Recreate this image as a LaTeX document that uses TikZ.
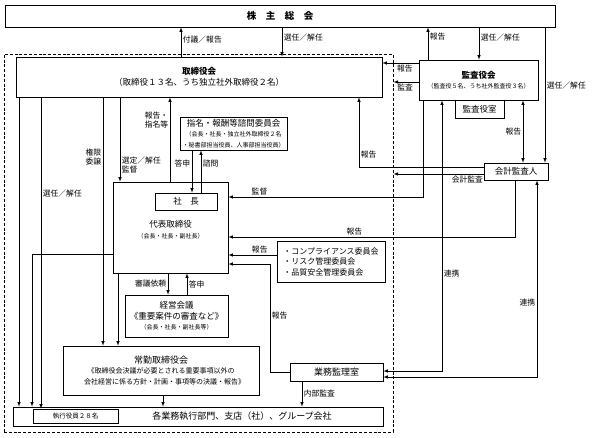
\documentclass[tikz,border=0pt]{standalone}
\usepackage{fontspec}
\setmainfont{Noto Sans CJK JP}
\newcommand{\smalltxt}{\fontsize{6}{7.5}\selectfont}
\tikzset{>=latex}

\begin{document}
\begin{tikzpicture}[x=1pt,y=-1pt]

	\tikzstyle{box} = [rectangle, draw=black, line width=0.7pt, inner sep=0pt, align=center, font=\fontsize{8.5}{10.5}\selectfont]
	\tikzstyle{group} = [rectangle, draw=black, line width=0.9pt, dash pattern=on 3pt off 1.8pt, inner sep=0pt]
	\tikzstyle{lbl} = [inner sep=1.5pt, align=center, font=\fontsize{7.8}{9}\selectfont]
	\tikzstyle{conn} = [line width=0.6pt]

	\useasboundingbox (0,0) rectangle (593,437);

%------------------------------------------------------------
	\coordinate (c19) at (19,0);   \coordinate (c32) at (32,0);
	\coordinate (c41) at (41,0);   \coordinate (c103) at (103,0);
	\coordinate (c118) at (118,0); \coordinate (c120) at (120,0);
	\coordinate (c163) at (163,0); \coordinate (c168) at (168,0);
	\coordinate (c170) at (170,0); \coordinate (c181) at (181,0);
	\coordinate (c187) at (187,0); \coordinate (c192) at (192,0);
	\coordinate (c201) at (201,0); \coordinate (c270) at (270,0);
	\coordinate (c282) at (282,0); \coordinate (c302) at (302,0);
	\coordinate (c359) at (359,0); \coordinate (c423) at (423,0);
	\coordinate (c428) at (428,0); \coordinate (c442) at (442,0);
	\coordinate (c479) at (479,0); \coordinate (c515) at (515,0);
	\coordinate (c523) at (523,0); \coordinate (c537) at (537,0);
	\coordinate (c545) at (545,0);

	\coordinate (r63) at (0,63);   \coordinate (r82) at (0,82);
	\coordinate (r167) at (0,167); \coordinate (r174) at (0,174);
	\coordinate (r197) at (0,197); \coordinate (r237) at (0,237);
	\coordinate (r254) at (0,254); \coordinate (r255) at (0,255);
	\coordinate (r264) at (0,264); \coordinate (r371) at (0,371);
	\coordinate (r377) at (0,377);

%------------------------------------------------------------
	\node[group, minimum width=389, minimum height=378] (kaisha) at (198.5,243) {};

	\node[box, minimum width=550, minimum height=22, font=\fontsize{9.5}{11}\selectfont\bfseries] (soukai) at (280,16) {株　主　総　会};

	\node[box, minimum width=366, minimum height=40] (torishimari) at (199,77) {\textbf{取締役会}\\（取締役１３名、うち独立社外取締役２名）};

	\node[box, minimum width=119, minimum height=40] (kansayaku) at (478.5,80) {\textbf{監査役会}\\{\smalltxt（監査役５名、うち社外監査役３名）}};
	\node[box, minimum width=49, minimum height=18] (kansashitsu) at (479.5,109) {監査役室};
	\node[box, minimum width=64, minimum height=17] (kaikei) at (516,171.5) {会計監査人};

	\node[box, minimum width=107, minimum height=33] (shimei) at (233.5,133.5) {指名・報酬等諮問委員会\\{\smalltxt（会長・社長・独立社外取締役２名}\\{\smalltxt・秘書部担当役員、人事部担当役員）}};

	\node[box, minimum width=115, minimum height=91] (daihyo) at (170.5,227.5) {};
	\node[box, minimum width=62, minimum height=17] (shacho) at (186,201.5) {社　長};
	\node[align=center, font=\fontsize{8.5}{10.5}\selectfont] (daihyo_text) at (170.5,229.5) {代表取締役\\{\smalltxt（会長・社長・副社長）}};

	\node[box, minimum width=108, minimum height=41, align=left, font=\fontsize{8}{10.5}\selectfont] (iinkai) at (331,261.5) {・コンプライアンス委員会\\・リスク管理委員会\\・品質安全管理委員会};

	\node[box, minimum width=103, minimum height=42] (keiei) at (176.5,316) {経営会議\\《重要案件の審査など》\\{\smalltxt（会長・社長・副社長等）}};

	\node[box, minimum width=196, minimum height=49] (jokin) at (161,370.5) {{\fontsize{9}{11}\selectfont 常勤取締役会}\\{\fontsize{7}{9}\selectfont《取締役会決議が必要とされる重要事項以外の\hspace*{2.5em}}\\{\fontsize{7}{9}\selectfont\hspace*{1em}会社経営に係る方針・計画・事項等の決議・報告》}};

	\node[box, minimum width=93, minimum height=18, font=\fontsize{9}{11}\selectfont] (gyomu) at (336.5,372) {業務監理室};

	\node[box, minimum width=370, minimum height=19] (bumon) at (198,416.5) {};
	\node[box, minimum width=85, minimum height=14, font=\fontsize{6.5}{8}\selectfont] (shikko) at (75.5,416) {執行役員２８名};
	\node[font=\fontsize{9}{11}\selectfont] (bumon_text) at (242,416.5) {各業務執行部門、支店（社）、グループ会社};

%------------------------------------------------------------
	\path[conn, -latex] (torishimari.north -| c181) edge node[lbl, right, pos=0.6] {付議／報告} (soukai.south -| c181);
	\path[conn, -latex] (soukai.south -| c282) edge node[lbl, right, pos=0.35] {選任／解任} (torishimari.north -| c282);
	\path[conn, -latex] (kansayaku.north -| c428) edge node[lbl, right, pos=0.7] {報告} (soukai.south -| c428);
	\path[conn, -latex] (soukai.south -| c479) edge node[lbl, right, pos=0.3] {選任／解任} (kansayaku.north -| c479);
	\path[conn, -latex] (soukai.south -| c545) edge node[lbl, right, pos=0.43] {選任／解任} (kaikei.north -| c545);

%------------------------------------------------------------
	\path[conn, -latex] (kansayaku.west |- r63) edge node[lbl, below, pos=0.38] {報告} (torishimari.east |- r63);
	\path[conn, -latex] (kansayaku.west |- r82) edge node[lbl, below, pos=0.54] {監査} (kaisha.east |- r82);
	\draw[conn, -latex] (kansayaku.south -| c423) |- node[lbl, above, pos=0.92] {監督} (daihyo.east |- r197);
	\path[conn, latex-latex] (kansayaku.south -| c523) edge node[lbl, left] {報告} (kaikei.north -| c523);

	\draw[conn, -latex] (kaikei.west |- r167) -| node[lbl, right, pos=0.59] {報告} (torishimari.south -| c359);
	\path[conn, -latex] (kaikei.west |- r174) edge node[lbl, below, pos=0.18] {会計監査} (kaisha.east |- r174);
	\draw[conn, -latex] (kaikei.south -| c515) |- node[lbl, above, pos=0.78] {報告} (daihyo.east |- r237);

	\draw[conn, latex-latex] (gyomu.east |- r371) -| node[lbl, right, pos=0.68] {連携} (kansayaku.south -| c442);
	\draw[conn, latex-latex] (gyomu.east |- r377) -| node[lbl, left, pos=0.69] {連携} (kaikei.south -| c537);

%------------------------------------------------------------
	\path[conn, -latex] (daihyo.north -| c170) edge node[lbl, left, pos=0.73] {報告・\\指名等} (torishimari.south -| c170);
	\path[conn, -latex] (torishimari.south -| c120) edge node[lbl, right, pos=0.8, align=left] {選定／解任\\監督} (daihyo.north -| c120);
	\path[conn, -latex] (shimei.south -| c192) edge node[lbl, left, pos=0.3] {答申} (shacho.north -| c192);
	\path[conn, -latex] (shacho.north -| c201) edge node[lbl, right, pos=0.7] {諮問} (shimei.south -| c201);

	\path[conn, -latex] (torishimari.south -| c103) edge node[lbl, left, pos=0.24] {権限\\委譲} (jokin.north -| c103);
	\path[conn, -latex] (torishimari.south -| c41) edge node[lbl, right, pos=0.31] {選任／解任} (shikko.north -| c41);
	\path[conn, -latex] (torishimari.south -| c19) edge (bumon.north -| c19);
	\draw[conn, -latex] (daihyo.west |- r254) -| (bumon.north -| c32);

%------------------------------------------------------------
	\path[conn, -latex] (daihyo.south -| c118) edge (jokin.north -| c118);
	\path[conn, -latex] (daihyo.south -| c168) edge node[lbl, left] {審議依頼} (keiei.north -| c168);
	\path[conn, -latex] (keiei.north -| c187) edge node[lbl, right] {答申} (daihyo.south -| c187);
	\path[conn, -latex] (jokin.south -| c163) edge (bumon.north -| c163);

	\path[conn, -latex] (iinkai.west |- r255) edge node[lbl, above, pos=0.35] {報告} (daihyo.east |- r255);
	\draw[conn, -latex] (gyomu.west) -| node[lbl, right, pos=0.76] {報告} (c270 |- r264) -- (daihyo.east |- r264);
	\path[conn, -latex] (gyomu.south -| c302) edge node[lbl, right] {内部監査} (bumon.north -| c302);

\end{tikzpicture}
\end{document}
